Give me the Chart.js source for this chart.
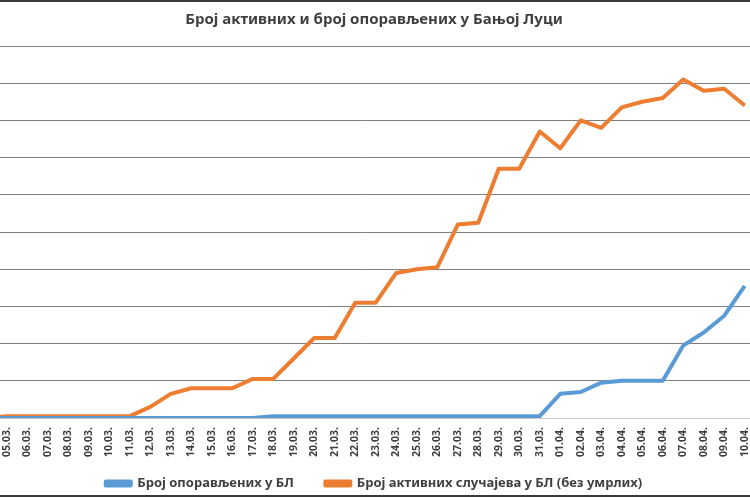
<!DOCTYPE html>
<html>
<head>
<meta charset="utf-8">
<script src="https://cdn.jsdelivr.net/npm/chart.js@4"></script>
<style>
  html, body { margin: 0; padding: 0; background: #fff; }
  body { width: 750px; height: 500px; overflow: hidden; position: relative; }
  #wrap { position: absolute; left: -24px; top: 0; width: 796px; height: 500px; }
  #frame { position: absolute; left: 0; top: 0; width: 750px; height: 497px;
           border-top: 2px solid #3a3a3a; border-bottom: 2px solid #3a3a3a; box-sizing: border-box; pointer-events: none; }
</style>
</head>
<body>
<div id="wrap"><canvas id="graph"></canvas></div>
<div id="frame"></div>
<script>
const days = ['04.03.', '05.03.', '06.03.', '07.03.', '08.03.', '09.03.', '10.03.', '11.03.', '12.03.', '13.03.',
  '14.03.', '15.03.', '16.03.', '17.03.', '18.03.', '19.03.', '20.03.', '21.03.', '22.03.', '23.03.',
  '24.03.', '25.03.', '26.03.', '27.03.', '28.03.', '29.03.', '30.03.', '31.03.', '01.04.', '02.04.',
  '03.04.', '04.04.', '05.04.', '06.04.', '07.04.', '08.04.', '09.04.', '10.04.'];
const recovered = [0, 0, 0, 0, 0, 0, 0, 0, 0, 0,
  0, 0, 0, 0, 1, 1, 1, 1, 1, 1,
  1, 1, 1, 1, 1, 1, 1, 1, 13, 14,
  19, 20, 20, 20, 39, 46, 55, 71];
const active = [0, 1, 1, 1, 1, 1, 1, 1, 6, 13,
  16, 16, 16, 21, 21, 32, 43, 43, 62, 62,
  78, 80, 81, 104, 105, 134, 134, 154, 145, 160,
  156, 167, 170, 172, 182, 176, 177, 168];
const yMax = 200;
const yStep = 20;
const chartTitle = 'Број активних и број опорављених у Бањој Луци';
const recoveredLabel = 'Број опорављених у БЛ';
const activeLabel = 'Број активних случајева у БЛ (без умрлих)';

function createChart() {
  let graph = document.getElementById('graph').getContext('2d');
  Chart.defaults.font.family = 'Noto Sans';
  Chart.defaults.color = '#404040';
  new Chart(graph, {
    type: 'line',
    data: {
      labels: days,
      datasets: [
        {
          label: recoveredLabel,
          data: recovered,
          borderWidth: 4,
          borderColor: '#5b9bd5',
          backgroundColor: '#5b9bd5',
          pointRadius: 0,
          borderJoinStyle: 'round'
        },
        {
          label: activeLabel,
          data: active,
          borderWidth: 4,
          borderColor: '#ed7d31',
          backgroundColor: '#ed7d31',
          pointRadius: 0,
          borderJoinStyle: 'round'
        }
      ]
    },
    options: {
      responsive: true,
      maintainAspectRatio: false,
      animation: false,
      layout: { padding: 0 },
      plugins: {
        title: {
          display: true,
          text: chartTitle,
          font: { size: 15, weight: 'bold' },
          color: '#404040',
          padding: { top: 11, bottom: 17 }
        },
        legend: {
          position: 'bottom',
          labels: {
            boxWidth: 25,
            boxHeight: 4,
            padding: 18,
            font: { size: 13, weight: 'bold' },
            color: '#404040',
            generateLabels: function (chart) {
              let items = Chart.defaults.plugins.legend.labels.generateLabels(chart);
              items[0].text += '    ';
              return items;
            }
          }
        },
        tooltip: { enabled: false }
      },
      scales: {
        x: {
          offset: true,
          grid: { display: false, drawTicks: false },
          border: { display: true, color: '#c8c8c8' },
          ticks: {
            autoSkip: false,
            minRotation: 90,
            maxRotation: 90,
            padding: 9,
            font: { size: 10.5, weight: 'bold' },
            color: '#404040'
          },
          afterFit: function (scale) { scale.height = 41; }
        },
        y: {
          position: 'right',
          min: 0,
          max: yMax,
          ticks: { display: false, stepSize: yStep },
          grid: { color: '#7f7f7f', lineWidth: 1, drawTicks: false },
          border: { display: false },
          // the value axis sits off the cropped right edge
          afterFit: function (scale) { scale.width = 17; }
        }
      }
    }
  });
}
createChart();
</script>
</body>
</html>
